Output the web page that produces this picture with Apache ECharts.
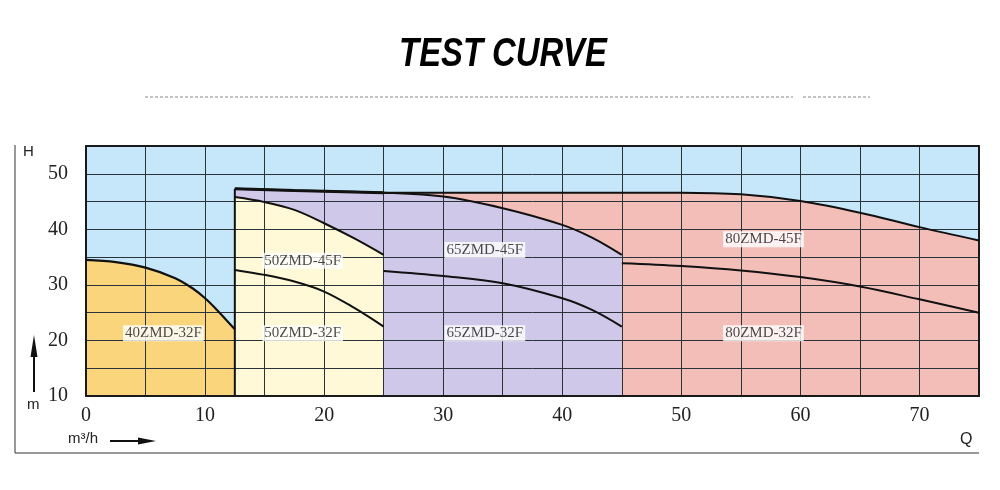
<!DOCTYPE html>
<html>
<head>
<meta charset="utf-8">
<script src="https://cdn.jsdelivr.net/npm/echarts@6/dist/echarts.min.js"></script>
<style>
html,body{margin:0;padding:0;background:#fff;}
#chart{width:1000px;height:490px;}
</style>
</head>
<body>
<div id="chart"></div>
<script>
// ---- data (Q in m3/h, H in m) ----
var titleText = 'TEST CURVE';
var xMin = 0, xMax = 75, xStep = 5;
var yMin = 10, yMax = 55, yStep = 5;
var xTickLabels = [0, 10, 20, 30, 40, 50, 60, 70];
var yTickLabels = [10, 20, 30, 40, 50];

var curve40_32F = [[0,34.5],[2.5,34.1],[5,33.1],[7.5,31.2],[9,29.3],[10,27.6],[11,25.5],[12.5,22.0]];
var curve50_45F = [[12.5,45.8],[15,44.9],[17.5,43.5],[20,41.1],[22.5,38.4],[25,35.4]];
var curve50_32F = [[12.5,32.7],[15,31.8],[17.5,30.6],[20,28.8],[22.5,25.9],[25,22.5]];
var curve65_45F = [[12.5,47.3],[17.5,47.0],[25,46.6],[30,45.9],[35,43.8],[40,40.8],[42.5,38.5],[45,35.4]];
var curve65_32F = [[25,32.5],[30,31.6],[35,30.3],[40,27.6],[42.5,25.5],[45,22.5]];
var curve80_45F = [[25,46.6],[30,46.6],[35,46.6],[40,46.6],[45,46.6],[50,46.6],[55,46.3],[60,45.1],[65,43.0],[70,40.4],[75,38.0]];
var curve80_32F = [[45,33.9],[50,33.4],[55,32.6],[60,31.4],[65,29.7],[70,27.4],[75,25.0]];
var regionEdgeQ = 12.5;

var modelNames = ['40ZMD-32F','50ZMD-45F','50ZMD-32F','65ZMD-45F','65ZMD-32F','80ZMD-45F','80ZMD-32F'];
var modelLabelQ = [6.5, 18.2, 18.2, 33.5, 33.5, 56.9, 56.9];
var modelLabelH = [21.3, 34.35, 21.3, 36.3, 21.3, 38.2, 21.3];

// ---- chart ----
var chart = echarts.init(document.getElementById('chart'), null, {renderer:'canvas'});
var serif = '"Liberation Serif","Times New Roman",serif';
var sans = '"Liberation Sans",Arial,sans-serif';
var gridColor = '#2a333a';

function areaSeries(data, color){
  return {type:'line', data:data, z:2, symbol:'none', silent:true, smooth:0.35,
    lineStyle:{width:0}, areaStyle:{color:color, opacity:1, origin:'start'}};
}
function lineSeries(data, w){
  return {type:'line', data:data, z:4, symbol:'none', silent:true, smooth:0.35,
    lineStyle:{width:w||2, color:'#111'}};
}
var labelData = modelNames.map(function(n,i){ return {name:n, value:[modelLabelQ[i], modelLabelH[i]]}; });

var option = {
  animation:false,
  grid:{left:86, right:21, top:146, bottom:94, show:true, backgroundColor:'#c6e7f9', borderWidth:0, z:1},
  xAxis:[{
    type:'value', min:xMin, max:xMax, interval:xStep, z:3,
    axisLine:{show:true, onZero:false, lineStyle:{color:'#1a1a1a', width:2}},
    axisTick:{show:false},
    splitLine:{show:true, lineStyle:{color:gridColor, width:1}},
    axisLabel:{margin:10, fontFamily:serif, fontSize:20, color:'#222',
      formatter:function(v){ return xTickLabels.indexOf(v) >= 0 ? String(v) : ''; }}
  },{
    type:'value', position:'top', min:xMin, max:xMax, interval:xStep, z:3,
    axisLine:{show:true, onZero:false, lineStyle:{color:'#1a1a1a', width:2}},
    axisTick:{show:false}, axisLabel:{show:false}, splitLine:{show:false}
  }],
  yAxis:[{
    type:'value', min:yMin, max:yMax, interval:yStep, z:3,
    axisLine:{show:true, onZero:false, lineStyle:{color:'#1a1a1a', width:2}},
    axisTick:{show:false},
    splitLine:{show:true, lineStyle:{color:gridColor, width:1}},
    axisLabel:{margin:18, fontFamily:serif, fontSize:20, color:'#222',
      formatter:function(v){ return yTickLabels.indexOf(v) >= 0 ? String(v) : ''; }}
  },{
    type:'value', position:'right', min:yMin, max:yMax, interval:yStep, z:3,
    axisLine:{show:true, onZero:false, lineStyle:{color:'#1a1a1a', width:2}},
    axisTick:{show:false}, axisLabel:{show:false}, splitLine:{show:false}
  }],
  series:[
    areaSeries(curve80_45F, '#f4beb8'),
    areaSeries(curve65_45F, '#cfc8e8'),
    areaSeries(curve50_45F, '#fff9d7'),
    areaSeries(curve40_32F, '#fbd57c'),
    lineSeries(curve80_45F, 2),
    lineSeries(curve80_32F, 2),
    lineSeries(curve65_45F, 2),
    lineSeries(curve65_32F, 2),
    lineSeries(curve50_45F, 2),
    lineSeries(curve50_32F, 2),
    lineSeries(curve40_32F, 2.2),
    {type:'line', z:4, symbol:'none', silent:true, smooth:false,
      data:[[regionEdgeQ, yMin],[regionEdgeQ, curve65_45F[0][1]]],
      lineStyle:{width:2, color:'#111'}},
    {type:'line', z:4, symbol:'none', silent:true, smooth:false,
      data:curve65_45F.slice(0,3), lineStyle:{width:3, color:'#111'}},
    {type:'scatter', z:6, symbolSize:0, silent:true, data:labelData,
      label:{show:true, position:'inside', formatter:'{b}', fontFamily:serif, fontSize:15,
        color:'#1a1a1a', backgroundColor:'#ffffff', padding:[1,2,0,2]}}
  ],
  graphic:[
    {type:'text', x:503, y:55, scaleX:0.8, scaleY:1, originX:0, originY:0, z:10,
      style:{text:titleText, font:'italic bold 41px "Liberation Sans",Arial,sans-serif', fill:'#000',
        textAlign:'center', textVerticalAlign:'middle'}},
    {type:'line', shape:{x1:145,y1:97,x2:683,y2:97}, style:{stroke:'#888', lineWidth:1, lineDash:[3,2]}},
    {type:'line', shape:{x1:686,y1:97,x2:793,y2:97}, style:{stroke:'#888', lineWidth:1, lineDash:[3,2]}},
    {type:'line', shape:{x1:803,y1:97,x2:870,y2:97}, style:{stroke:'#888', lineWidth:1, lineDash:[3,2]}},
    {type:'line', shape:{x1:15,y1:145,x2:15,y2:453}, style:{stroke:'#333', lineWidth:1}},
    {type:'line', shape:{x1:15,y1:453,x2:979,y2:453}, style:{stroke:'#333', lineWidth:1}},
    {type:'text', x:23, y:144, style:{text:'H', font:'15px '+sans, fill:'#222'}},
    {type:'text', x:27, y:397, style:{text:'m', font:'15px '+sans, fill:'#222'}},
    {type:'line', shape:{x1:34,y1:392,x2:34,y2:350}, style:{stroke:'#111', lineWidth:2}},
    {type:'polygon', shape:{points:[[34,335],[30.5,357],[37.5,357]]}, style:{fill:'#111'}},
    {type:'text', x:68, y:431, style:{text:'m\u00b3/h', font:'15px '+sans, fill:'#222'}},
    {type:'line', shape:{x1:110,y1:441,x2:142,y2:441}, style:{stroke:'#111', lineWidth:2}},
    {type:'polygon', shape:{points:[[156,441],[138,437.5],[138,444.5]]}, style:{fill:'#111'}},
    {type:'text', x:960, y:432, style:{text:'Q', font:'16px '+sans, fill:'#222'}}
  ]
};
chart.setOption(option);
</script>
</body>
</html>
